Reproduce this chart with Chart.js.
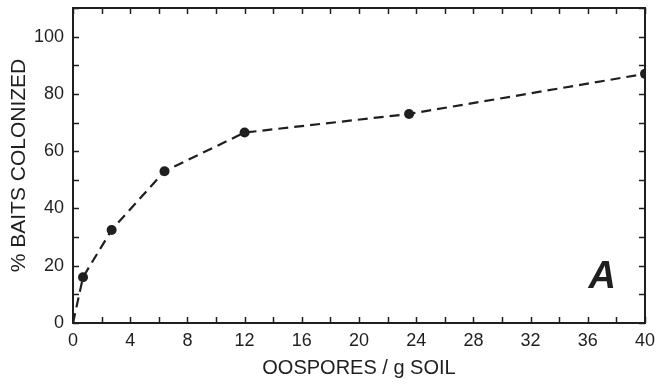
<!DOCTYPE html>
<html><head><meta charset="utf-8">
<script src="https://cdn.jsdelivr.net/npm/chart.js@4/dist/chart.umd.min.js"></script>
<style>html,body{margin:0;padding:0;background:#fff}#wrap{width:659px;height:384px}</style>
</head><body><div id="wrap"><canvas id="c" width="659" height="384"></canvas></div>
<script>
const oospores = [0, 0.7, 2.7, 6.4, 12, 23.5, 40];
const baitsColonized = [0, 16, 32.5, 53, 66.5, 73, 87];
const pointSizes = [0, 5, 5, 5, 5, 5, 5];
const xTickLabels = [0, 4, 8, 12, 16, 20, 24, 28, 32, 36, 40];
const yTickLabels = [0, 20, 40, 60, 80, 100];
const panelLetter = 'A';

const ink = '#1f1f1f';
const fontFam = "'Liberation Sans', Arial, sans-serif";

const frame = {
  id: 'frame',
  afterDraw(chart) {
    const {ctx, chartArea: a, scales: {x, y}} = chart;
    ctx.save();
    ctx.strokeStyle = ink;
    ctx.lineWidth = 2;
    ctx.strokeRect(a.left, a.top, a.right - a.left, a.bottom - a.top);
    ctx.lineWidth = 1.5;
    const L = 6;
    for (let v = 0; v <= 40; v += 2) {
      const px = Math.round(x.getPixelForValue(v)) + 0.5;
      ctx.beginPath();
      ctx.moveTo(px, a.bottom); ctx.lineTo(px, a.bottom - L);
      ctx.moveTo(px, a.top); ctx.lineTo(px, a.top + L);
      ctx.stroke();
    }
    for (let v = 0; v <= 110; v += 10) {
      const py = Math.round(y.getPixelForValue(v)) + 0.5;
      ctx.beginPath();
      ctx.moveTo(a.left, py); ctx.lineTo(a.left + L, py);
      ctx.moveTo(a.right, py); ctx.lineTo(a.right - L, py);
      ctx.stroke();
    }
    ctx.fillStyle = ink;
    ctx.font = "italic bold 38px " + fontFam;
    ctx.textAlign = 'center';
    ctx.textBaseline = 'middle';
    ctx.fillText(panelLetter, x.getPixelForValue(37.0), y.getPixelForValue(16));
    ctx.restore();
  }
};

new Chart(document.getElementById('c'), {
  type: 'line',
  data: {
    datasets: [{
      data: oospores.map((v, i) => ({x: v, y: baitsColonized[i]})),
      borderColor: ink,
      backgroundColor: ink,
      borderWidth: 2.2,
      borderDash: [10, 6],
      pointRadius: pointSizes,
      pointBackgroundColor: ink,
      pointBorderWidth: 0,
      tension: 0,
      fill: false
    }]
  },
  options: {
    responsive: false,
    animation: false,
    layout: {padding: {top: 8, right: 14, left: 0, bottom: 0}},
    plugins: {legend: {display: false}, tooltip: {enabled: false}},
    scales: {
      x: {
        type: 'linear', min: 0, max: 40,
        afterFit(s) { s.height = 61; s.paddingLeft = 0; s.paddingRight = 0; },
        afterBuildTicks(s) { s.ticks = xTickLabels.map(v => ({value: v})); },
        grid: {display: false, drawTicks: false},
        border: {display: false},
        ticks: {color: ink, font: {size: 18, family: fontFam}, padding: 7, maxRotation: 0, autoSkip: false},
        title: {display: true, text: 'OOSPORES / g SOIL', color: ink, font: {size: 20, family: fontFam}, padding: {top: 0}}
      },
      y: {
        type: 'linear', min: 0, max: 110,
        afterFit(s) { s.width = 73; s.paddingTop = 0; s.paddingBottom = 0; },
        afterBuildTicks(s) { s.ticks = yTickLabels.map(v => ({value: v})); },
        grid: {display: false, drawTicks: false},
        border: {display: false},
        ticks: {color: ink, font: {size: 18, family: fontFam}, padding: 9, autoSkip: false},
        title: {display: true, text: '% BAITS COLONIZED', color: ink, font: {size: 21, family: fontFam}, padding: {top: 7, bottom: 4}}
      }
    }
  },
  plugins: [frame]
});
</script></body></html>
